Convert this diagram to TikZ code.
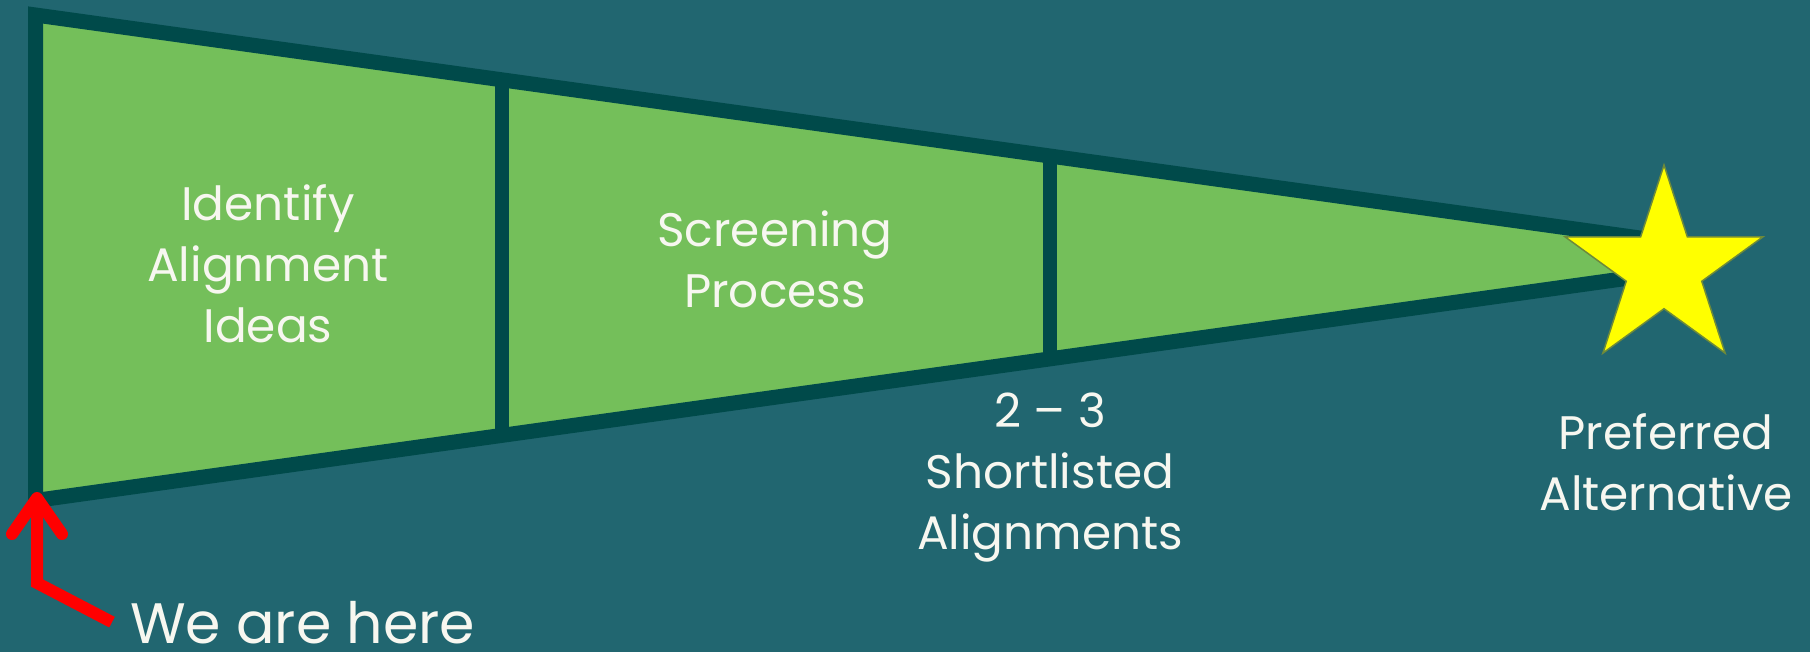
\documentclass[tikz,border=0pt]{standalone}
\usepackage{fontspec}
\setmainfont{Poppins}
\usetikzlibrary{arrows.meta,shapes.geometric}
\definecolor{bg}{HTML}{216670}
\definecolor{rim}{HTML}{004A4A}
\definecolor{leaf}{HTML}{74BF5A}
\definecolor{ink}{HTML}{F7F7F0}
\definecolor{staryel}{HTML}{FFFF00}
\definecolor{starrim}{HTML}{6E8A3A}
\definecolor{arrowred}{HTML}{FF0000}
\begin{document}
\begin{tikzpicture}[x=1pt,y=-1pt,
  lbl/.style={text=ink, align=center, inner sep=0pt, font=\fontsize{47}{61}\selectfont},
  rimline/.style={draw=rim, line width=15pt, line join=miter},
  divider/.style={draw=rim, line width=14pt},
  pointer/.style={draw=arrowred, line width=12pt, line join=miter,
    -{Straight Barb[length=36pt,width=50pt,line cap=round,line join=round]}}]
\fill[bg] (0,0) rectangle (1810,652);
\useasboundingbox (0,0) rectangle (1810,652);
% funnel corners (centre of rim)
\coordinate (tl) at (35.5,15);
\coordinate (bl) at (35.5,500.5);
\coordinate (tr) at (1660,240.8);
\coordinate (br) at (1660,273.7);
\coordinate (d1t) at (501.5,79.8);
\coordinate (d1b) at (501.5,435.4);
\coordinate (d2t) at (1050,156);
\coordinate (d2b) at (1050,358.9);
\fill[leaf] (tl) -- (tr) -- (br) -- (bl) -- cycle;
\draw[rimline] (tr) -- (tl) -- (bl) -- (br);
\draw[divider] (d1t) -- (d1b);
\draw[divider] (d2t) -- (d2b);
% star
\node[star, star points=5, star point ratio=2.618, minimum size=208pt, inner sep=0pt,
  fill=staryel, draw=starrim, line width=1.5pt] (goal) at (1664,269) {};
% labels
\node[lbl] (ideas) at (268,264) {Identify\\Alignment\\Ideas};
\node[lbl] (screen) at (775,259) {Screening\\Process};
\node[lbl] (short) at (1050,478) {2 – 3\\Shortlisted\\Alignments};
\node[lbl] (pref) at (1666,462) {Preferred\\Alternative};
\node[text=ink, inner sep=0pt, anchor=base west, font=\fontsize{57}{60}\selectfont] (here) at (130,643) {We are here};
% pointer
\coordinate (bend) at (37,583);
\coordinate (tip) at (37,492);
\draw[pointer] ([xshift=-18pt]here.west) -- (bend) -- (tip);
\end{tikzpicture}
\end{document}
